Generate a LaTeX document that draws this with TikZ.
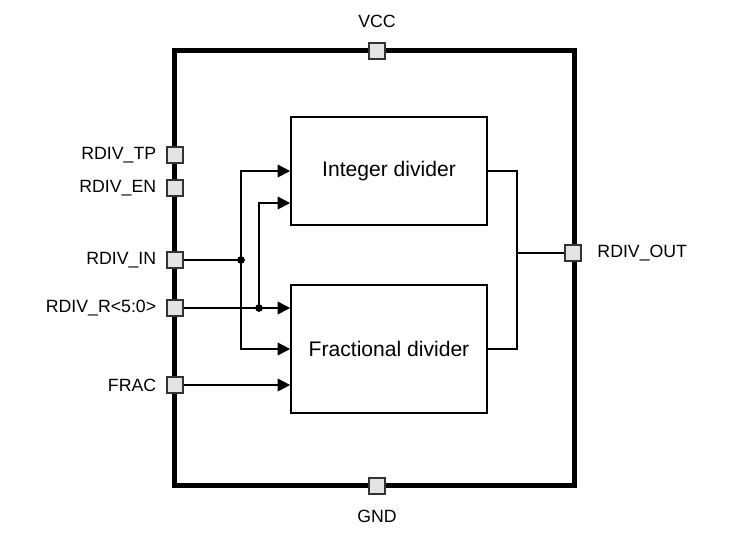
\documentclass[tikz,border=0pt]{standalone}
\usepackage{fontspec}
\setmainfont{Liberation Sans}
\usetikzlibrary{arrows.meta, positioning, calc}

\begin{document}
\begin{tikzpicture}[x=0.025cm, y=-0.025cm,
    >={Triangle[length=9pt, width=9pt]},
    % Styles
    chip/.style={draw, line width=3.6pt},
    pin/.style={draw=black!80, fill=gray!22, line width=1pt, minimum size=11.4pt, inner sep=0pt},
    pinlbl/.style={font=\fontsize{12.6}{15}\selectfont, inner sep=2pt},
    block/.style={draw, line width=1.1pt, minimum width=4.9cm, font=\fontsize{15}{18}\selectfont},
    wire/.style={line width=1.3pt},
    dot/.style={circle, fill, inner sep=0pt, minimum size=5.5pt},
  ]
  \useasboundingbox (0,0) rectangle (735,542);

  % Package outline
  \node[chip, minimum width=9.975cm, minimum height=10.85cm] (box) at (374.5,268) {};

  % Supply pins
  \node[pin] (vcc) at (377,51) {};
  \node[pin] (gnd) at (377,486) {};
  \node[pinlbl, above=8pt of vcc] (vcclbl) {VCC};
  \node[pinlbl, below=9pt of gnd] (gndlbl) {GND};

  % Left pins
  \node[pin] (tp) at (175,155) {};
  \node[pin] (en) at (175,188) {};
  \node[pin] (in) at (175,260) {};
  \node[pin] (r) at (175,308) {};
  \node[pin] (fr) at (175,385) {};
  \node[pinlbl, left=5pt of tp] (tplbl) {RDIV\_TP};
  \node[pinlbl, left=5pt of en] (enlbl) {RDIV\_EN};
  \node[pinlbl, left=5pt of in] (inlbl) {RDIV\_IN};
  \node[pinlbl, left=5pt of r] (rlbl) {RDIV\_R<5:0>};
  \node[pinlbl, left=5pt of fr] (frlbl) {FRAC};

  % Right pin
  \node[pin] (out) at (573,253) {};
  \node[pinlbl, right=9pt of out] (outlbl) {RDIV\_OUT};

  % Dividers
  \node[block, minimum height=2.7cm] (int) at (389,171) {Integer divider};
  \node[block, minimum height=3.2cm] (frac) at (389,349) {Fractional divider};

  % Junctions
  \coordinate (jin) at (241,260);
  \coordinate (jr) at (259,308);
  \coordinate (jout) at (517,253);

  % Wires
  \draw[wire] (in.east) -- (jin);
  \draw[wire, ->] (jin) |- (int.west);
  \draw[wire, ->] (jin) |- (frac.west);
  \draw[wire, ->] (r.east) -- (frac.west |- r.east);
  \draw[wire, ->] (jr) |- ($(int.west)+(0,32)$);
  \draw[wire, ->] (fr.east) -- (frac.west |- fr.east);
  \draw[wire] (int.east) -| (jout) |- (frac.east);
  \draw[wire] (jout) -- (out.west);
  \node[dot] at (jin) {};
  \node[dot] at (jr) {};

\end{tikzpicture}
\end{document}
